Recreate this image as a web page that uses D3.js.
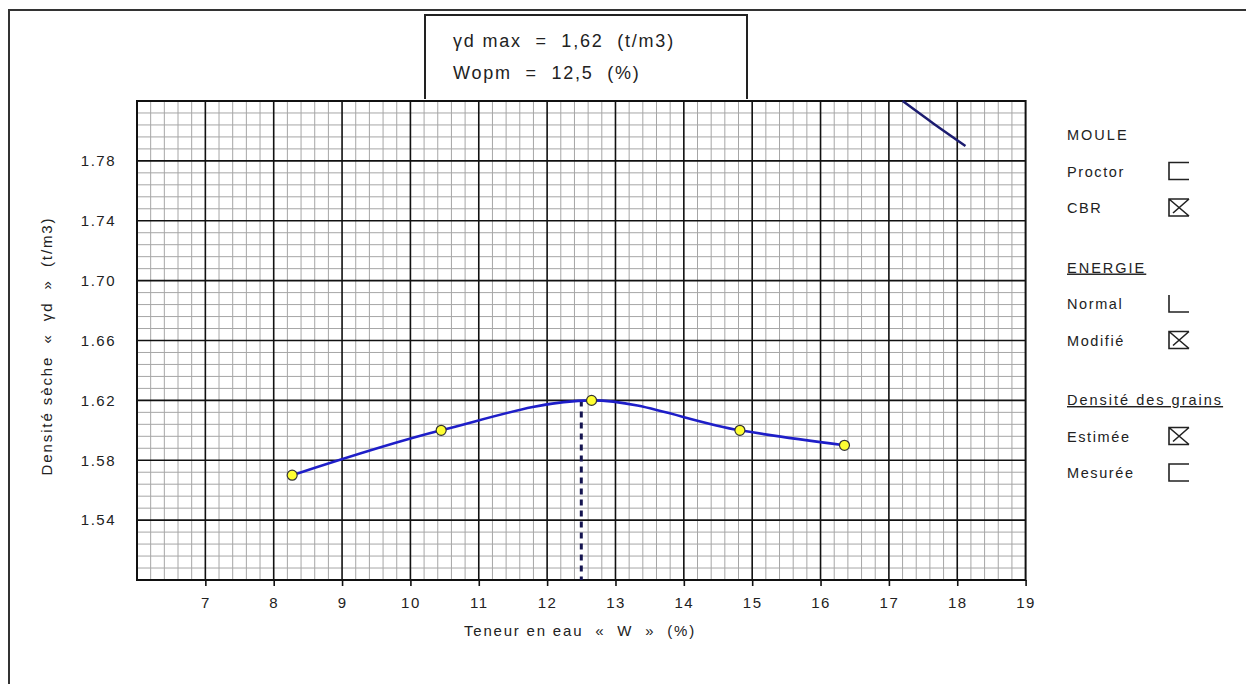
<!DOCTYPE html>
<html lang="fr">
<head>
<meta charset="UTF-8">
<title>Courbe Proctor</title>
<script src="https://d3js.org/d3.v7.min.js"></script>
<style>
  body { margin: 0; background: #fff; }
  svg { display: block; font-family: "Liberation Sans", Arial, sans-serif; }
  .major { stroke: #111; stroke-width: 1.6px; }
  .minor { stroke: #a6a6a6; stroke-width: 1px; }
  text { fill: #222; }
  .tick text { font-size: 15px; letter-spacing: 1.5px; }
</style>
</head>
<body>
<div id="chart"></div>
<script>
// axes
const xTicks = [7, 8, 9, 10, 11, 12, 13, 14, 15, 16, 17, 18, 19];
const yTicks = [1.54, 1.58, 1.62, 1.66, 1.70, 1.74, 1.78];
const yTickLabels = ["1.54", "1.58", "1.62", "1.66", "1.70", "1.74", "1.78"];

// essai Proctor : teneur en eau (%) / densite seche (t/m3)
const waterContent = [8.27, 10.45, 12.65, 14.82, 16.35];
const dryDensity = [1.570, 1.600, 1.620, 1.600, 1.590];

// courbe de saturation (partie visible)
const saturationW = [17.2, 17.65, 18.12];
const saturationD = [1.820, 1.805, 1.790];

const optimumW = 12.5;
const optimumD = 1.62;

const infoLines = ["\u03b3d max  =  1,62  (t/m3)", "Wopm  =  12,5  (%)"];

const legendHeads = ["MOULE", "ENERGIE", "Densit\u00e9 des grains"];
const legendLabels = ["Proctor", "CBR", "Normal", "Modifi\u00e9", "Estim\u00e9e", "Mesur\u00e9e"];
const legendGroup = [0, 0, 1, 1, 2, 2];
const legendMark = ["open", "cross", "corner", "cross", "cross", "open"];

const width = 1246, height = 684;
const margin = {top: 101, right: 220, bottom: 104, left: 137};

const svg = d3.select("#chart").append("svg")
  .attr("width", width)
  .attr("height", height);

// cadre exterieur
svg.append("path")
  .attr("d", "M9,690 L9,10 L1250,10")
  .attr("fill", "none")
  .attr("stroke", "#333")
  .attr("stroke-width", 2);

const x = d3.scaleLinear().domain([6, 19]).range([margin.left, width - margin.right - 0.4]);
const y = d3.scaleLinear().domain([1.50, 1.82]).range([height - margin.bottom, margin.top]);

// grille secondaire
const grid = svg.append("g");
const xMinor = d3.range(0, 66).filter(i => i % 5 !== 0).map(i => 6 + i * 0.2);
const yMinor = d3.range(0, 41).filter(i => i % 5 !== 0).map(i => 1.50 + i * 0.008);

grid.selectAll("line.vx").data(xMinor).join("line")
  .attr("class", "minor")
  .attr("x1", d => x(d)).attr("x2", d => x(d))
  .attr("y1", y(1.50)).attr("y2", y(1.82));

grid.selectAll("line.hy").data(yMinor).join("line")
  .attr("class", "minor")
  .attr("x1", x(6)).attr("x2", x(19))
  .attr("y1", d => y(d)).attr("y2", d => y(d));

// grille principale
grid.selectAll("line.mx").data(xTicks.slice(0, -1)).join("line")
  .attr("class", "major")
  .attr("x1", d => x(d)).attr("x2", d => x(d))
  .attr("y1", y(1.50)).attr("y2", y(1.82));

grid.selectAll("line.my").data(yTicks).join("line")
  .attr("class", "major")
  .attr("x1", x(6)).attr("x2", x(19))
  .attr("y1", d => y(d)).attr("y2", d => y(d));

svg.append("rect")
  .attr("x", x(6)).attr("y", y(1.82))
  .attr("width", x(19) - x(6)).attr("height", y(1.50) - y(1.82))
  .attr("fill", "none").attr("stroke", "#111").attr("stroke-width", 2);

// axes
const xAxis = svg.append("g")
  .attr("transform", `translate(0,${y(1.50)})`)
  .call(d3.axisBottom(x).tickValues(xTicks).tickSize(6).tickPadding(11).tickFormat(d3.format("d")));
xAxis.select(".domain").remove();
xAxis.selectAll(".tick line").attr("stroke", "#111").attr("stroke-width", 1.6);

const yAxis = svg.append("g")
  .attr("transform", `translate(${x(6)},0)`)
  .call(d3.axisLeft(y).tickValues(yTicks).tickSize(0).tickPadding(21)
    .tickFormat((d, i) => yTickLabels[i]));
yAxis.select(".domain").remove();

svg.selectAll(".tick text").attr("fill", "#222").style("font-family", "'Liberation Sans', Arial, sans-serif");

// titres d'axes
svg.append("text")
  .attr("x", 580)
  .attr("y", 636)
  .attr("text-anchor", "middle")
  .style("font-size", "15px")
  .style("letter-spacing", "1.8px")
  .style("white-space", "pre")
  .text("Teneur en eau  \u00ab  W  \u00bb  (%)");

svg.append("text")
  .attr("transform", "translate(52,346) rotate(-90)")
  .attr("text-anchor", "middle")
  .style("font-size", "15px")
  .style("letter-spacing", "1.9px")
  .style("white-space", "pre")
  .text("Densit\u00e9 s\u00e8che  \u00ab  \u03b3d  \u00bb  (t/m3)");

// courbe de saturation
const line = d3.line().x(d => x(d[0])).y(d => y(d[1]));
svg.append("path")
  .datum(d3.zip(saturationW, saturationD))
  .attr("d", line.curve(d3.curveMonotoneX))
  .attr("fill", "none")
  .attr("stroke", "#1c1c70")
  .attr("stroke-width", 2.5);

// ligne de l'optimum
svg.append("line")
  .attr("x1", x(optimumW)).attr("x2", x(optimumW))
  .attr("y1", y(optimumD)).attr("y2", y(1.50))
  .attr("stroke", "#141450")
  .attr("stroke-width", 3)
  .attr("stroke-dasharray", "6,5");

// courbe Proctor
const pts = d3.zip(waterContent, dryDensity);
svg.append("path")
  .datum(pts)
  .attr("d", d3.line().x(d => x(d[0])).y(d => y(d[1])).curve(d3.curveMonotoneX))
  .attr("fill", "none")
  .attr("stroke", "#1e1ec8")
  .attr("stroke-width", 2.6);

svg.selectAll("circle.pt").data(pts).join("circle")
  .attr("cx", d => x(d[0]))
  .attr("cy", d => y(d[1]))
  .attr("r", 5)
  .attr("fill", "#ffff33")
  .attr("stroke", "#333")
  .attr("stroke-width", 1.2);

// cartouche
svg.append("path")
  .attr("d", "M425,99 L425,15 L747,15 L747,99")
  .attr("fill", "none")
  .attr("stroke", "#222")
  .attr("stroke-width", 2);

svg.selectAll("text.info").data(infoLines).join("text")
  .attr("x", 453)
  .attr("y", (d, i) => 47 + i * 32)
  .style("font-size", "18px")
  .style("letter-spacing", "1.8px")
  .style("white-space", "pre")
  .text(d => d);

// legende
const lx = 1067, boxX = 1169;
const headY = i => 135 + i * 132.5;
const leg = svg.append("g");

leg.selectAll("text.head").data(legendHeads).join("text")
  .attr("x", lx)
  .attr("y", (d, i) => headY(i) + 5)
  .style("font-size", "14.5px")
  .style("letter-spacing", "2px")
  .attr("text-decoration", (d, i) => i > 0 ? "underline" : null)
  .text(d => d);

const rowY = (d, i) => headY(legendGroup[i]) + 36.5 * (1 + (i % 2));

leg.selectAll("text.item").data(legendLabels).join("text")
  .attr("x", lx)
  .attr("y", (d, i) => rowY(d, i) + 5)
  .style("font-size", "14.5px")
  .style("letter-spacing", "1.6px")
  .text(d => d);

const markPath = (m, cy) => {
  const x0 = boxX, x1 = boxX + 20, y0 = cy - 9, y1 = cy + 8;
  if (m === "corner") return `M${x0},${y0} L${x0},${y1} L${x1},${y1}`;
  if (m === "open") return `M${x1},${y0} L${x0},${y0} L${x0},${y1} L${x1},${y1}`;
  return `M${x1},${y0} L${x0},${y0} L${x0},${y1} L${x1},${y1} M${x0},${y0} L${x1},${y1} M${x1},${y0} L${x0 + 4},${y1 - 3}`;
};

leg.selectAll("path.mark").data(legendMark).join("path")
  .attr("d", (m, i) => markPath(m, rowY(m, i)))
  .attr("fill", "none")
  .attr("stroke", "#222")
  .attr("stroke-width", 1.6);
</script>
</body>
</html>
